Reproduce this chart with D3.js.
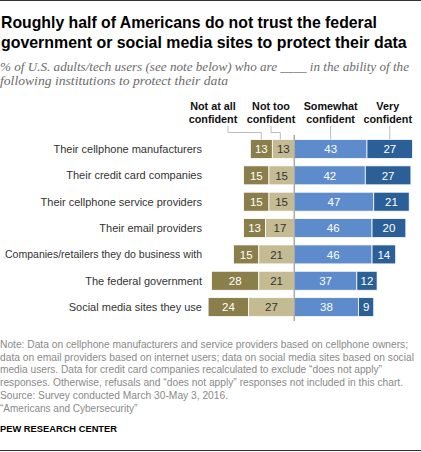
<!DOCTYPE html>
<html>
<head>
<meta charset="utf-8">
<script src="https://cdn.jsdelivr.net/npm/d3@7"></script>
<style>
  html, body { margin: 0; padding: 0; background: #fff; }
  svg { display: block; }
</style>
</head>
<body>
<script>
// ---------- data ----------
const categories = [
  "Their cellphone manufacturers",
  "Their credit card companies",
  "Their cellphone service providers",
  "Their email providers",
  "Companies/retailers they do business with",
  "The federal government",
  "Social media sites they use"
];
const notAtAll = [13, 15, 15, 13, 15, 28, 24];
const notToo   = [13, 15, 15, 17, 21, 21, 27];
const somewhat = [43, 42, 47, 46, 46, 37, 38];
const veryConf = [27, 27, 21, 20, 14, 12, 9];
const responseLabels = [
  ["Not at all", "confident"],
  ["Not too", "confident"],
  ["Somewhat", "confident"],
  ["Very", "confident"]
];
const titleLines = [
  "Roughly half of Americans do not trust the federal",
  "government or social media sites to protect their data"
];
const subtitleLines = [
  "% of U.S. adults/tech users (see note below) who are ____ in the ability of the",
  "following institutions to protect their data"
];
const noteLines = [
  "Note: Data on cellphone manufacturers and service providers based on cellphone owners;",
  "data on email providers based on internet users; data on social media sites based on social",
  "media users. Data for credit card companies recalculated to exclude \u201cdoes not apply\u201d",
  "responses. Otherwise, refusals and \u201cdoes not apply\u201d responses not included in this chart.",
  "Source: Survey conducted March 30-May 3, 2016.",
  "\u201cAmericans and Cybersecurity\u201d"
];
const creditLine = "PEW RESEARCH CENTER";

// ---------- layout ----------
const W = 421, H = 452;
const colors = ["#8a7f4a", "#c4bb93", "#5d8bcb", "#2b5f98"];
const textColors = ["#ffffff", "#333333", "#ffffff", "#ffffff"];

const svg = d3.select("body").append("svg")
  .attr("width", W).attr("height", H);

function fit(sel, target, onlyShrink) {
  sel.each(function () {
    const len = this.getComputedTextLength();
    if ((onlyShrink && len > target) || (!onlyShrink && Math.abs(len - target) > 1)) {
      d3.select(this).attr("textLength", target).attr("lengthAdjust", "spacingAndGlyphs");
    }
  });
}

// horizontally scale a text (anchored at its x,y) to a target width
function squeeze(el, x, y, target) {
  const len = el.node().getComputedTextLength();
  const s = Math.min(1, target / len);
  el.attr("x", 0).attr("y", 0)
    .attr("transform", `translate(${x},${y}) scale(${s},1)`);
}

// top and bottom rules
svg.append("line").attr("x1", 0).attr("x2", W).attr("y1", 0.5).attr("y2", 0.5)
  .attr("stroke", "#333").attr("stroke-width", 1);
svg.append("line").attr("x1", 0).attr("x2", W).attr("y1", 450.5).attr("y2", 450.5)
  .attr("stroke", "#333").attr("stroke-width", 1);

// title
const titleW = [376, 406];
titleLines.forEach((t, i) => {
  const el = svg.append("text")
    .attr("font-family", "'Liberation Sans', Arial, sans-serif")
    .attr("font-weight", "bold").attr("font-size", 17)
    .attr("fill", "#000").text(t);
  squeeze(el, 1, 27.5 + i * 20.5, titleW[i]);
});

// subtitle
const subW = [409, 228];
subtitleLines.forEach((t, i) => {
  const el = svg.append("text")
    .attr("x", 0).attr("y", 71 + i * 14)
    .attr("font-family", "'Liberation Serif', 'DejaVu Serif', serif")
    .attr("font-style", "italic").attr("font-size", 12.5)
    .attr("fill", "#6b6b6b").text(t);
  fit(el, subW[i]);
});

// scales
const unit = 1.69;
const x0 = 294.3;
const x = d3.scaleLinear().domain([0, 100]).range([x0, x0 + 100 * unit]);
const y = d3.scaleBand().domain(categories)
  .range([135.8, 320.3]).paddingInner(0.28).paddingOuter(0.14);

// stacked segments
const rows = categories.map((c, i) => {
  const segs = [
    { k: 0, a: -(notAtAll[i] + notToo[i]), b: -notToo[i], v: notAtAll[i] },
    { k: 1, a: -notToo[i], b: 0, v: notToo[i] },
    { k: 2, a: 0, b: somewhat[i], v: somewhat[i] },
    { k: 3, a: somewhat[i], b: somewhat[i] + veryConf[i], v: veryConf[i] }
  ];
  return { c, segs };
});

const g = svg.append("g");
const rowG = g.selectAll("g.row").data(rows).join("g").attr("class", "row");

rowG.selectAll("rect").data(d => d.segs.map(s => ({ ...s, c: d.c }))).join("rect")
  .attr("x", d => x(d.a))
  .attr("width", d => x(d.b) - x(d.a))
  .attr("y", d => y(d.c))
  .attr("height", y.bandwidth())
  .attr("fill", d => colors[d.k])
  .attr("stroke", "#fff").attr("stroke-width", 0.8);

rowG.selectAll("text.val").data(d => d.segs.map(s => ({ ...s, c: d.c }))).join("text")
  .attr("class", "val")
  .attr("x", d => (x(d.a) + x(d.b)) / 2)
  .attr("y", d => y(d.c) + y.bandwidth() / 2 + 4.2)
  .attr("text-anchor", "middle")
  .attr("font-family", "'Liberation Sans', Arial, sans-serif")
  .attr("font-size", 11.5)
  .attr("fill", d => textColors[d.k])
  .text(d => d.v);

// category labels
g.selectAll("text.cat").data(categories).join("text")
  .attr("class", "cat")
  .attr("x", 202)
  .attr("y", d => y(d) + y.bandwidth() / 2 + 4)
  .attr("text-anchor", "end")
  .attr("font-family", "'Liberation Sans', Arial, sans-serif")
  .attr("font-size", 11)
  .attr("fill", "#333")
  .text(d => d)
  .call(fit, 197, true);

// center line
svg.append("line")
  .attr("x1", x(0)).attr("x2", x(0))
  .attr("y1", 135).attr("y2", 321)
  .attr("stroke", "#a8a8a8").attr("stroke-width", 1.5);

// header labels
const r0 = rows[0].segs;
const segMid = s => (x(s.a) + x(s.b)) / 2;
const headerX = [213, 271, segMid(r0[2]), segMid(r0[3]) - 2];
responseLabels.forEach((lines, k) => {
  lines.forEach((t, j) => {
    svg.append("text")
      .attr("x", headerX[k]).attr("y", 110 + j * 12.8)
      .attr("text-anchor", "middle")
      .attr("font-family", "'Liberation Sans', Arial, sans-serif")
      .attr("font-weight", "bold").attr("font-size", 10.8)
      .attr("fill", "#111").text(t);
  });
});

// leader lines
const barTop = y(categories[0]);
const leader = d3.line();
const leaders = [
  [[228, 126], [228, 132.5], [segMid(r0[0]), 132.5], [segMid(r0[0]), barTop]],
  [[headerX[1], 126], [headerX[1], 132.5], [segMid(r0[1]) - 3, 132.5], [segMid(r0[1]) - 3, barTop]],
  [[segMid(r0[2]), 126], [segMid(r0[2]), barTop]],
  [[segMid(r0[3]), 126], [segMid(r0[3]), barTop]]
];
svg.selectAll("path.lead").data(leaders).join("path")
  .attr("class", "lead")
  .attr("d", d => leader(d))
  .attr("fill", "none").attr("stroke", "#bdbdbd").attr("stroke-width", 1);

// notes
const noteW = [408, 414, 382, 403, 228, 138];
noteLines.forEach((t, i) => {
  const el = svg.append("text")
    .attr("x", 0).attr("y", 348 + i * 12.7)
    .attr("font-family", "'Liberation Sans', Arial, sans-serif")
    .attr("font-size", 10)
    .attr("fill", "#8a8a8a").text(t);
  fit(el, noteW[i]);
});

const cr = svg.append("text")
  .attr("x", 0).attr("y", 432)
  .attr("font-family", "'Liberation Sans', Arial, sans-serif")
  .attr("font-weight", "bold").attr("font-size", 9.5)
  .attr("fill", "#000").text(creditLine);
fit(cr, 117);
</script>
</body>
</html>
